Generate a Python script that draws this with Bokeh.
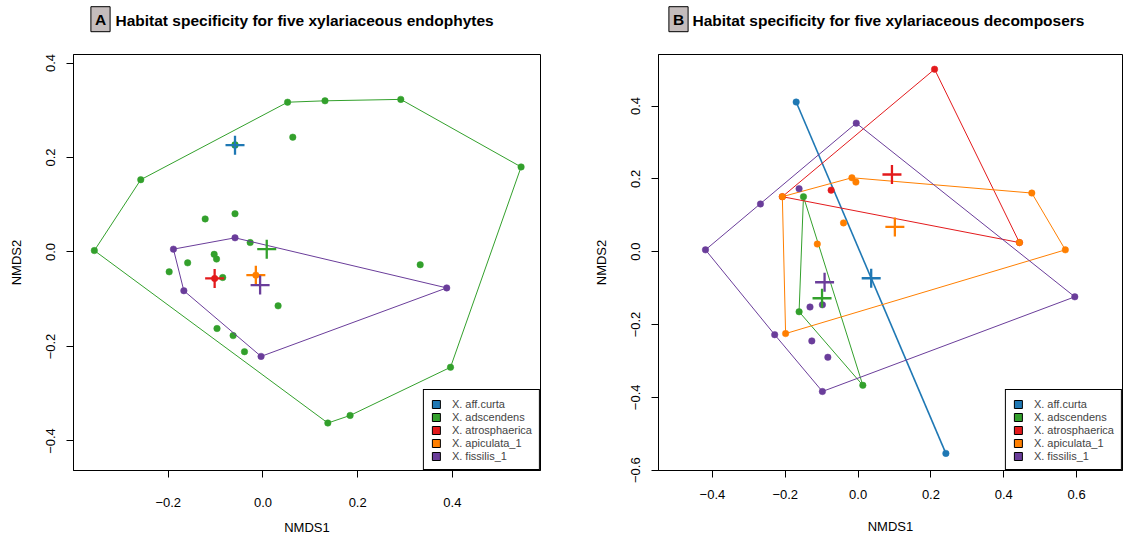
import numpy as np
from bokeh.plotting import figure
from bokeh.layouts import row, column
from bokeh.models import (Range1d, FixedTicker, CustomJSTickFormatter, Legend,
                          LegendItem, Label)
from bokeh.embed import file_html
from bokeh.resources import INLINE

FONT = "Liberation Sans"

species = ["X. aff.curta", "X. adscendens", "X. atrosphaerica", "X. apiculata_1", "X. fissilis_1"]
colors = ["#1f78b4", "#33a02c", "#e31a1c", "#ff7f00", "#6a3d9a"]
titles = ["Habitat specificity for five xylariaceous endophytes",
          "Habitat specificity for five xylariaceous decomposers"]
letters = ["A", "B"]

# ---------------- Panel A : endophytes ----------------
a_curta_x = [-0.059]
a_curta_y = [0.226]
a_adsc_x = [-0.356, -0.258, 0.052, 0.131, 0.291, 0.545, 0.396, 0.184, 0.137,
            0.063, -0.059, -0.122, -0.059, -0.027, -0.103, -0.098, -0.159, -0.198,
            -0.085, 0.332, 0.032, -0.097, -0.063, -0.039]
a_adsc_y = [0.003, 0.153, 0.317, 0.320, 0.323, 0.180, -0.244, -0.346, -0.362,
            0.243, 0.227, 0.070, 0.081, 0.020, -0.005, -0.015, -0.023, -0.042,
            -0.054, -0.027, -0.114, -0.162, -0.177, -0.211]
a_atro_x = [-0.102]
a_atro_y = [-0.056]
a_apic_x = [-0.015]
a_apic_y = [-0.049]
a_fiss_x = [-0.189, -0.059, 0.388, -0.004, -0.167]
a_fiss_y = [0.006, 0.030, -0.076, -0.221, -0.082]
a_cent_x = [-0.059, 0.008, -0.102, -0.015, -0.006]
a_cent_y = [0.226, 0.006, -0.056, -0.049, -0.070]

# ---------------- Panel B : decomposers ----------------
b_curta_x = [-0.170, 0.241]
b_curta_y = [0.411, -0.554]
b_adsc_x = [-0.150, -0.162, 0.013]
b_adsc_y = [0.151, -0.165, -0.367]
b_atro_x = [0.210, 0.443, -0.208, -0.074]
b_atro_y = [0.501, 0.025, 0.151, 0.169]
b_apic_x = [-0.208, -0.017, -0.006, 0.477, 0.569, -0.199, -0.040, -0.112, 0.443]
b_apic_y = [0.151, 0.203, 0.191, 0.161, 0.005, -0.225, 0.079, 0.021, 0.025]
b_fiss_x = [-0.005, 0.595, -0.098, -0.229, -0.419, -0.268, -0.162, -0.132, -0.098, -0.127, -0.083]
b_fiss_y = [0.353, -0.124, -0.384, -0.228, 0.005, 0.131, 0.173, -0.152, -0.146, -0.245, -0.290]
b_cent_x = [0.036, -0.099, 0.093, 0.101, -0.092]
b_cent_y = [-0.073, -0.128, 0.212, 0.068, -0.084]

x_ticks_a = [-0.2, 0.0, 0.2, 0.4]
y_ticks_a = [-0.4, -0.2, 0.0, 0.2, 0.4]
x_ticks_b = [-0.4, -0.2, 0.0, 0.2, 0.4, 0.6]
y_ticks_b = [-0.6, -0.4, -0.2, 0.0, 0.2, 0.4]


def convex_hull(xs, ys):
    pts = sorted(set(zip(xs, ys)))
    if len(pts) <= 2:
        return pts

    def cross(o, a, b):
        return (a[0] - o[0]) * (b[1] - o[1]) - (a[1] - o[1]) * (b[0] - o[0])

    lower = []
    for q in pts:
        while len(lower) >= 2 and cross(lower[-2], lower[-1], q) <= 0:
            lower.pop()
        lower.append(q)
    upper = []
    for q in reversed(pts):
        while len(upper) >= 2 and cross(upper[-2], upper[-1], q) <= 0:
            upper.pop()
        upper.append(q)
    h = lower[:-1] + upper[:-1]
    return h + [h[0]]


fmt = CustomJSTickFormatter(code="""
    const v = Math.abs(tick).toFixed(1);
    return (tick < -1e-9 ? '\u2212' : '') + v;
""")

FRAME_H = 417


def make_panel(width, frame_w, xr, yr, mb_left, mb_right, xt, yt, groups, cents,
               x_stand, x_lab_stand):
    p = figure(width=width, height=487, x_range=Range1d(*xr), y_range=Range1d(*yr),
               output_backend="svg", toolbar_location=None,
               min_border_left=mb_left, min_border_right=mb_right,
               min_border_top=4, min_border_bottom=487 - 4 - FRAME_H)
    p.xgrid.visible = False
    p.ygrid.visible = False
    p.outline_line_color = "black"
    p.outline_line_width = 1
    p.outline_line_alpha = 1
    p.background_fill_color = "white"
    p.border_fill_color = "white"

    for ax, ticks in ((p.xaxis[0], xt), (p.yaxis[0], yt)):
        ax.ticker = FixedTicker(ticks=ticks)
        ax.formatter = fmt
        ax.axis_line_color = "black"
        ax.major_tick_line_color = "black"
        ax.major_tick_out = 7
        ax.major_tick_in = 0
        ax.minor_tick_line_color = None
        ax.major_label_text_font = FONT
        ax.major_label_text_font_size = "13px"
        ax.major_label_text_color = "black"
        ax.axis_label_text_font = FONT
        ax.axis_label_text_font_size = "13px"
        ax.axis_label_text_font_style = "normal"
        ax.axis_label_text_color = "black"
    p.xaxis.axis_label = "NMDS1"
    p.yaxis.axis_label = "NMDS2"
    p.yaxis.major_label_orientation = "vertical"
    p.xaxis.major_label_standoff = x_stand
    p.xaxis.axis_label_standoff = x_lab_stand
    p.yaxis.major_label_standoff = 11
    p.yaxis.axis_label_standoff = 20

    items = []
    for (xs, ys), c, name in zip(groups, colors, species):
        p.scatter(xs, ys, marker="circle", size=6.5, fill_color=c, line_color=c, line_width=0.5)
        h = convex_hull(xs, ys)
        if len(h) >= 2:
            lw = 1.6 if len(h) == 2 else 1.0
            p.line([q[0] for q in h], [q[1] for q in h], line_color=c, line_width=lw)
        r = p.quad(left=[np.nan], right=[np.nan], top=[np.nan], bottom=[np.nan],
                   fill_color=c, line_color="black", line_width=1)
        items.append(LegendItem(label=name, renderers=[r]))

    for cx, cy, c in zip(cents[0], cents[1], colors):
        p.scatter([cx], [cy], marker="cross", size=19, line_color=c, line_width=2.3)

    leg = Legend(items=items, location="bottom_right", margin=0, padding=7, spacing=0,
                 glyph_width=10, glyph_height=10, label_height=13, label_standoff=11,
                 label_text_font=FONT, label_text_font_size="11px",
                 border_line_color="black", border_line_width=1, border_line_alpha=1,
                 background_fill_color="white", background_fill_alpha=1)
    p.add_layout(leg)
    return p


# title strip (page pixel coordinates, y downward)
T_W, T_H = 1124, 50
tfig = figure(width=T_W, height=T_H, x_range=Range1d(0, T_W), y_range=Range1d(T_H, 0),
              output_backend="svg", toolbar_location=None,
              x_axis_location=None, y_axis_location=None,
              min_border=0, min_border_left=0, min_border_right=0,
              min_border_top=0, min_border_bottom=0)
tfig.grid.visible = False
tfig.outline_line_color = None
tfig.background_fill_color = "white"
tfig.border_fill_color = "white"
for letter, title, bx, tx in zip(letters, titles, [100, 678], [115, 692]):
    tfig.add_layout(Label(x=bx, y=18.7, text=letter, text_font=FONT, text_font_style="bold",
                          text_font_size="15.5px", text_baseline="middle", text_align="center",
                          text_color="black", background_fill_color="#c4bcbc",
                          border_line_color="black", border_line_width=1, padding=4))
    tfig.add_layout(Label(x=tx, y=20, text=title, text_font=FONT, text_font_style="bold",
                          text_font_size="15.5px", text_baseline="middle", text_align="left",
                          text_color="black"))

# Panel A : frame 73..540 ; Panel B : frame 657..1122
pA = make_panel(590, 467, (-0.400, 0.586), (-0.4625, 0.418), 73, 50, x_ticks_a, y_ticks_a,
                [(a_curta_x, a_curta_y), (a_adsc_x, a_adsc_y), (a_atro_x, a_atro_y),
                 (a_apic_x, a_apic_y), (a_fiss_x, a_fiss_y)],
                (a_cent_x, a_cent_y), 20, 10)

pB = make_panel(534, 465, (-0.548, 0.726), (-0.601, 0.5415), 67, 2, x_ticks_b, y_ticks_b,
                [(b_curta_x, b_curta_y), (b_adsc_x, b_adsc_y), (b_atro_x, b_atro_y),
                 (b_apic_x, b_apic_y), (b_fiss_x, b_fiss_y)],
                (b_cent_x, b_cent_y), 12, 17)

layout = column(tfig, row(pA, pB))
open("out.html", "w").write(file_html(layout, INLINE))
